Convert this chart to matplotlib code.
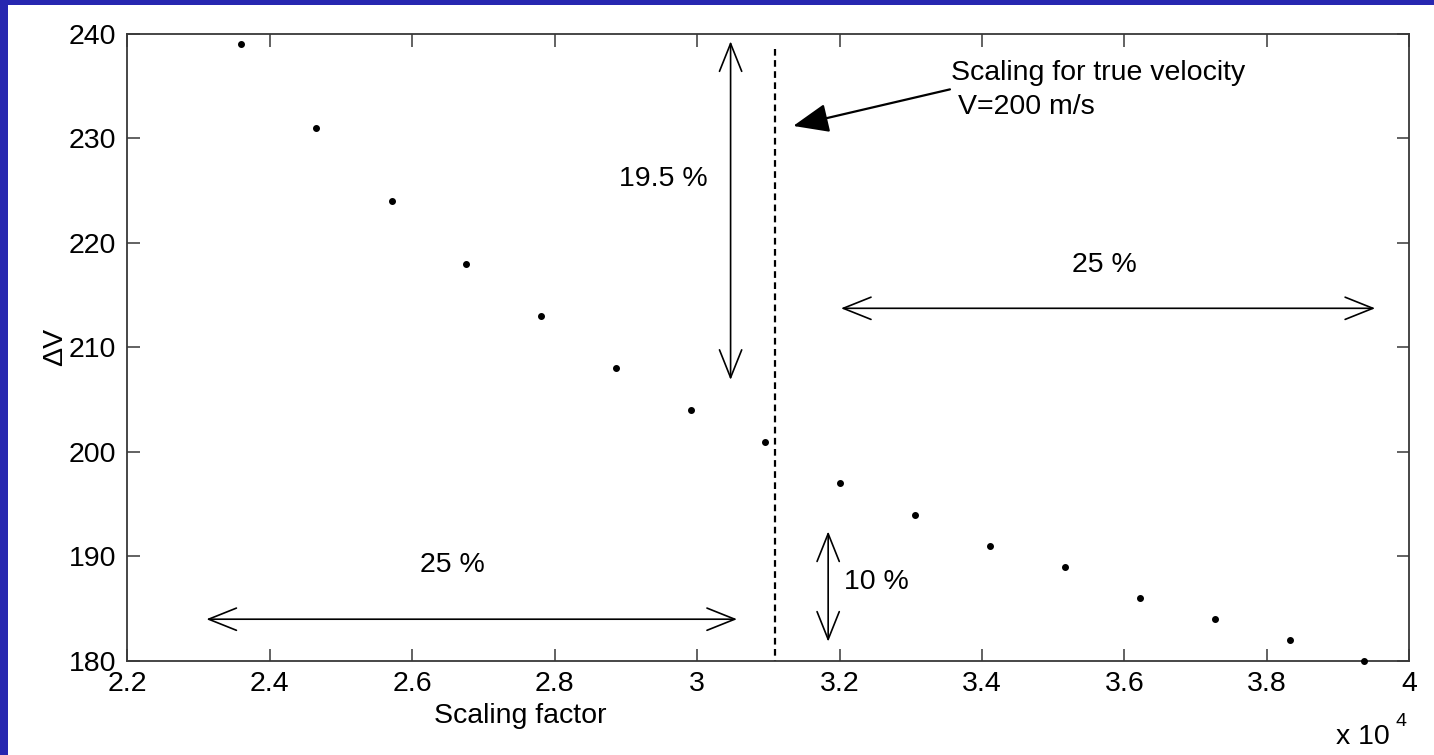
import matplotlib
matplotlib.use("Agg")
import matplotlib.pyplot as plt
from matplotlib.patches import Rectangle

plt.rcParams['font.family'] = ['Liberation Sans', 'DejaVu Sans']

# data: scaling factor (x 10^4) and Delta V
scaling = [2.360, 2.465, 2.571, 2.675, 2.781, 2.886, 2.991, 3.096,
           3.201, 3.306, 3.411, 3.517, 3.622, 3.727, 3.832, 3.937]
delta_v = [239, 231, 224, 218, 213, 208, 204, 201,
           197, 194, 191, 189, 186, 184, 182, 180]

x_ticks = [2.2, 2.4, 2.6, 2.8, 3.0, 3.2, 3.4, 3.6, 3.8, 4.0]
x_tick_labels = ['2.2', '2.4', '2.6', '2.8', '3', '3.2', '3.4', '3.6', '3.8', '4']
y_ticks = [180, 190, 200, 210, 220, 230, 240]

true_scaling = 3.109

FS = 20.5

fig = plt.figure(figsize=(14.34, 7.55), dpi=100)
fig.patch.set_facecolor('#2727b0')
# white slide area inside the blue border
fig.patches.append(Rectangle((8 / 1434, 0), 1, 1 - 5 / 755, transform=fig.transFigure,
                             facecolor='white', edgecolor='none', zorder=-5))

ax = fig.add_axes([0.0888, 0.1245, 0.894, 0.8305])
ax.set_zorder(2)
ax.set_xlim(2.2, 4.0)
ax.set_ylim(180, 240)
ax.plot(scaling, delta_v, 'o', color='black', markersize=4, clip_on=False, zorder=5)

ax.set_xticks(x_ticks)
ax.set_xticklabels(x_tick_labels)
ax.set_yticks(y_ticks)
ax.tick_params(direction='in', length=9, width=1.1, color='#383838',
               top=True, right=True, labelsize=FS)
ax.tick_params(axis='x', pad=7)
ax.tick_params(axis='y', pad=8)
for s in ax.spines.values():
    s.set_color('#383838')
    s.set_linewidth(1.3)

# labels placed where the slide has them
fig.text(520 / 1434, 1 - 716 / 755, 'Scaling factor', fontsize=FS, ha='center', va='center')
fig.text(55 / 1434, 1 - 347 / 755, '\u0394V', fontsize=FS, ha='center', va='center',
         rotation=90)
fig.text(1390 / 1434, 1 - 737 / 755, 'x 10', fontsize=FS, ha='right', va='center', zorder=3)
fig.text(1395 / 1434, 1 - 721 / 755, '4', fontsize=14, ha='left', va='center', zorder=3)

# dashed line at the true velocity scaling
ax.plot([true_scaling, true_scaling], [238.6, 180], color='black', lw=1.6,
        linestyle=(0, (3, 2)))

open_arrow = dict(arrowstyle='<->,head_length=20,head_width=8', mutation_scale=1,
                  color='black', lw=1.2, shrinkA=0, shrinkB=0)

# 19.5 % vertical arrow
ax.annotate('', xy=(3.047, 239.3), xytext=(3.047, 206.9), arrowprops=open_arrow)
ax.text(2.952, 226.1, '19.5 %', fontsize=FS, ha='center', va='center')

# 25 % right arrow
ax.annotate('', xy=(3.202, 213.75), xytext=(3.952, 213.75), arrowprops=open_arrow,
            annotation_clip=False)
ax.text(3.572, 217.9, '25 %', fontsize=FS, ha='center', va='center')

# 25 % left arrow
ax.annotate('', xy=(2.311, 184.0), xytext=(3.056, 184.0), arrowprops=open_arrow)
ax.text(2.656, 189.2, '25 %', fontsize=FS, ha='center', va='center')

# 10 % vertical arrow
ax.annotate('', xy=(3.184, 192.4), xytext=(3.184, 181.85), arrowprops=open_arrow)
ax.text(3.206, 187.6, '10 %', fontsize=FS, ha='left', va='center')

# annotation for true velocity
ax.annotate('', xy=(3.135, 231.2), xytext=(3.355, 234.7),
            arrowprops=dict(arrowstyle='-|>,head_length=22,head_width=9', mutation_scale=1,
                            color='black', lw=1.6, shrinkA=0, shrinkB=0))
ax.text(3.357, 236.3, 'Scaling for true velocity', fontsize=FS, ha='left', va='center')
ax.text(3.367, 233.0, 'V=200 m/s', fontsize=FS, ha='left', va='center')

fig.savefig('out.png', dpi=100, facecolor=fig.get_facecolor())
